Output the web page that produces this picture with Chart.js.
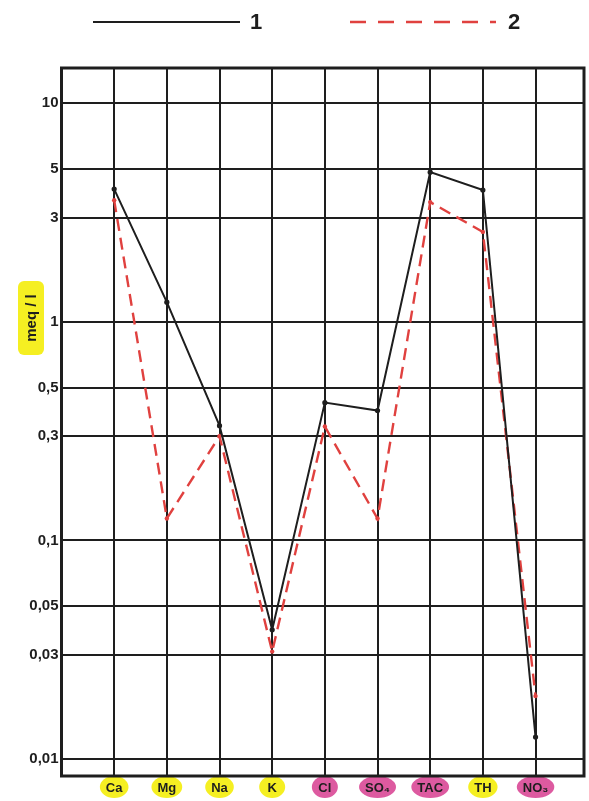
<!DOCTYPE html>
<html>
<head>
<meta charset="utf-8">
<script src="https://cdn.jsdelivr.net/npm/chart.js@4/dist/chart.umd.min.js"></script>
<style>
  html, body { margin: 0; padding: 0; background: #fff; }
  #wrap { width: 589px; height: 801px; position: relative; }
</style>
</head>
<body>
<div id="wrap"><canvas id="chart"></canvas></div>
<script>
// categories along the bottom
const categories = ["Ca", "Mg", "Na", "K", "Cl", "SO₄", "TAC", "TH", "NO₃"];

// meq/l
const series1 = [4.05, 1.23, 0.335, 0.039, 0.427, 0.393, 4.84, 4.01, 0.0126];
const series2 = [3.6, 0.126, 0.30, 0.031, 0.332, 0.126, 3.53, 2.58, 0.0194];

const yTicks = [0.01, 0.03, 0.05, 0.1, 0.3, 0.5, 1, 3, 5, 10];
const seriesNames = ["1", "2"];

// label highlight colours (yellow = cations / TH, pink = anions)
const YELLOW = "#f5ef22";
const PINK = "#dd5aa0";
const labelHighlight = [YELLOW, YELLOW, YELLOW, YELLOW, PINK, PINK, PINK, YELLOW, PINK];

const INK = "#1e1e1e";
const RED = "#e0413f";
const FONT = "'Liberation Sans', Arial, sans-serif";

const toPoints = (vals) => vals.map((v, i) => ({ x: i, y: v }));

// ── plugins ──

const labelBackdrops = {
  id: "labelBackdrops",
  beforeDraw(chart) {
    const { ctx } = chart;
    const xs = chart.scales.x;
    const cy = chart.chartArea.bottom + 11;
    ctx.save();
    ctx.font = `bold 13px ${FONT}`;
    categories.forEach((c, i) => {
      const x = xs.getPixelForValue(i);
      const w = Math.max(ctx.measureText(c).width + 12, 26);
      ctx.fillStyle = labelHighlight[i];
      ctx.beginPath();
      ctx.ellipse(x, cy, w / 2, 11, 0, 0, Math.PI * 2);
      ctx.fill();
    });

    // y axis title with its highlight
    ctx.translate(31, 318);
    ctx.rotate(-Math.PI / 2);
    ctx.fillStyle = YELLOW;
    ctx.beginPath();
    ctx.roundRect(-37, -13, 74, 26, 6);
    ctx.fill();
    ctx.fillStyle = INK;
    ctx.font = `bold 15px ${FONT}`;
    ctx.textAlign = "center";
    ctx.textBaseline = "middle";
    ctx.fillText("meq / l", 0, 1);
    ctx.restore();
  },
};

const frameAndLegend = {
  id: "frameAndLegend",
  afterDraw(chart) {
    const { ctx, chartArea: a } = chart;
    ctx.save();
    ctx.strokeStyle = INK;
    ctx.lineWidth = 3;
    ctx.strokeRect(a.left, a.top, a.right - a.left, a.bottom - a.top);

    // legend: line sample then its number
    const items = [
      { x0: 93, x1: 240, tx: 250 },
      { x0: 350, x1: 496, tx: 508 },
    ];
    chart.data.datasets.forEach((ds, i) => {
      const it = items[i];
      ctx.strokeStyle = ds.borderColor;
      ctx.lineWidth = ds.borderWidth;
      ctx.setLineDash(i === 1 ? [16, 12] : []);
      ctx.beginPath();
      ctx.moveTo(it.x0, 22);
      ctx.lineTo(it.x1, 22);
      ctx.stroke();
      ctx.setLineDash([]);
      ctx.fillStyle = INK;
      ctx.font = `bold 22px ${FONT}`;
      ctx.textBaseline = "middle";
      ctx.fillText(ds.label, it.tx, 23);
    });
    ctx.restore();
  },
};

// ── chart ──

new Chart(document.getElementById("chart"), {
  type: "line",
  data: {
    datasets: [
      {
        label: seriesNames[0],
        data: toPoints(series1),
        borderColor: INK,
        backgroundColor: INK,
        borderWidth: 2,
        pointRadius: 2.6,
        pointBorderWidth: 0,
        tension: 0,
      },
      {
        label: seriesNames[1],
        data: toPoints(series2),
        borderColor: RED,
        backgroundColor: RED,
        borderWidth: 2.4,
        borderDash: [12, 7],
        pointRadius: 2.2,
        pointBorderWidth: 0,
        tension: 0,
      },
    ],
  },
  options: {
    responsive: true,
    maintainAspectRatio: false,
    animation: false,
    layout: { padding: { top: 68, right: 5, left: 0, bottom: 0 } },
    plugins: {
      legend: { display: false },
      tooltip: { enabled: false },
    },
    scales: {
      x: {
        type: "linear",
        min: -1,
        max: 8.92,
        afterBuildTicks: (s) => { s.ticks = categories.map((_, i) => ({ value: i })); },
        afterFit: (s) => { s.height = 25; },
        grid: { color: INK, lineWidth: 2, drawTicks: false },
        border: { display: false },
        ticks: {
          autoSkip: false,
          maxRotation: 0,
          padding: 5,
          color: INK,
          font: { family: FONT, size: 13, weight: "bold" },
          callback: (v) => categories[v] ?? "",
        },
      },
      y: {
        type: "logarithmic",
        min: 0.00836,
        max: 14.5,
        afterBuildTicks: (s) => { s.ticks = yTicks.map((v) => ({ value: v })); },
        afterFit: (s) => { s.width = 61.5; },
        grid: { color: INK, lineWidth: 2, drawTicks: false },
        border: { display: false },
        ticks: {
          autoSkip: false,
          padding: 3,
          color: INK,
          font: { family: FONT, size: 15, weight: "bold" },
          callback: (v) => String(v).replace(".", ","),
        },
      },
    },
  },
  plugins: [labelBackdrops, frameAndLegend],
});
</script>
</body>
</html>
